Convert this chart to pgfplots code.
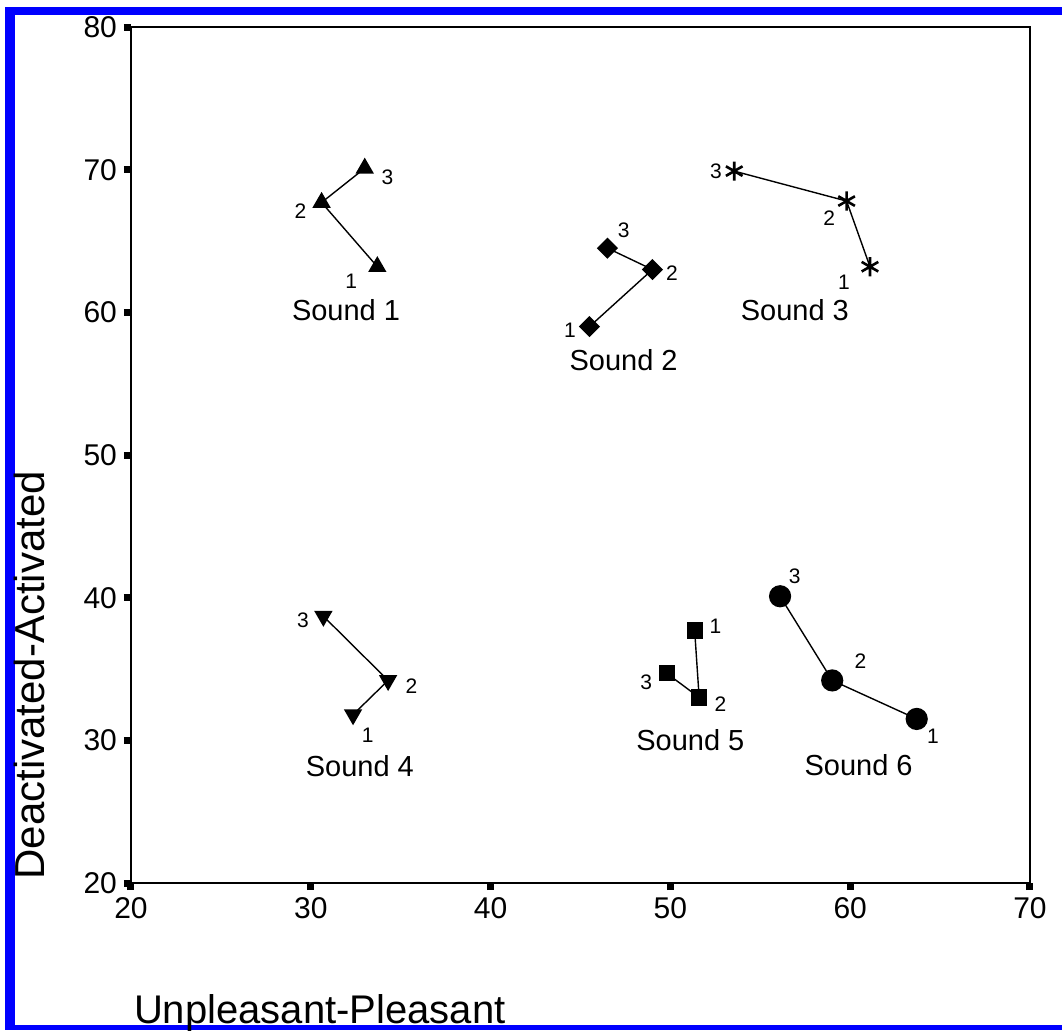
\documentclass[border=0pt]{standalone}
\usepackage{fontspec}
\setmainfont{Liberation Sans}
\usepackage{pgfplots}
\pgfplotsset{compat=1.18}
\tikzset{
    pt/.style={font=\fontsize{10.5}{12}\selectfont},
    snd/.style={font=\fontsize{14.5}{17}\selectfont},
}
\begin{document}
\begin{tikzpicture}
% page: 1062 x 1030 px, 1 px = 0.5pt
\path[use as bounding box] (0,0) rectangle (531pt,-515pt);
\fill[blue] (2.5pt,-3.5pt) rectangle (7.5pt,-515pt);
\fill[blue] (2.5pt,-3.5pt) rectangle (531pt,-7.5pt);
\fill[blue] (2.5pt,-512.5pt) rectangle (531pt,-515pt);
\begin{axis}[
    at={(65.5pt,-441.5pt)}, anchor=south west,
    scale only axis,
    width=449.5pt, height=428pt,
    xmin=20, xmax=70, ymin=20, ymax=80,
    xtick={20,30,...,70}, ytick={20,30,...,80},
    tick align=outside, xtick pos=bottom, ytick pos=left,
    major tick length=3.5pt,
    every tick/.style={black, line width=3.5pt},
    axis line style={line width=1.1pt},
    tick label style={font=\fontsize{15}{18}\selectfont},
    /pgf/number format/assume math mode=true,
    xlabel={Unpleasant-Pleasant},
    ylabel={Deactivated-Activated},
    xlabel style={font=\fontsize{20}{24}\selectfont, inner sep=0pt, at={(axis description cs:0.003,-0.1636)}, anchor=base west},
    ylabel style={font=\fontsize{21}{25}\selectfont, inner sep=0pt, at={(axis description cs:-0.0957,0.0035)}, anchor=base west},
    clip=false,
    every axis plot/.append style={black, line width=0.7pt},
]
% Sound 1
\addplot[mark=triangle*, mark size=4.6pt] coordinates {(33.7,63.2) (30.6,67.7) (33.0,70.1)};
% Sound 2
\addplot[mark=square*, mark size=3.4pt, mark options={rotate=45}] coordinates {(45.5,59.0) (49.0,63.0) (46.5,64.5)};
% Sound 3
\addplot[mark=asterisk, mark size=4.8pt, mark options={line width=1.3pt}] coordinates {(61.1,63.2) (59.8,67.8) (53.55,69.9)};
% Sound 4
\addplot[mark=triangle*, mark size=4.6pt, mark options={rotate=180}] coordinates {(32.35,31.8) (34.3,34.2) (30.7,38.7)};
% Sound 5
\addplot[mark=square*, mark size=3.7pt] coordinates {(51.35,37.7) (51.6,33.0) (49.8,34.7)};
% Sound 6
\addplot[mark=*, mark size=5.2pt] coordinates {(63.7,31.5) (59.0,34.2) (56.1,40.1)};

\node[pt] at (axis cs:34.26,69.5) {3};
\node[pt] at (axis cs:29.43,67.06) {2};
\node[pt] at (axis cs:32.25,62.15) {1};
\node[snd] at (axis cs:31.96,60.17) {Sound 1};

\node[pt] at (axis cs:47.4,65.77) {3};
\node[pt] at (axis cs:50.09,62.78) {2};
\node[pt] at (axis cs:44.42,58.77) {1};
\node[snd] at (axis cs:47.4,56.66) {Sound 2};

\node[pt] at (axis cs:52.54,69.86) {3};
\node[pt] at (axis cs:58.84,66.59) {2};
\node[pt] at (axis cs:59.65,62.08) {1};
\node[snd] at (axis cs:56.92,60.17) {Sound 3};

\node[pt] at (axis cs:29.57,38.44) {3};
\node[pt] at (axis cs:35.6,33.82) {2};
\node[pt] at (axis cs:33.17,30.39) {1};
\node[snd] at (axis cs:32.73,28.17) {Sound 4};

\node[pt] at (axis cs:52.5,37.98) {1};
\node[pt] at (axis cs:52.79,32.56) {2};
\node[pt] at (axis cs:48.65,34.05) {3};
\node[snd] at (axis cs:51.11,30.03) {Sound 5};

\node[pt] at (axis cs:56.92,41.53) {3};
\node[pt] at (axis cs:60.57,35.52) {2};
\node[pt] at (axis cs:64.61,30.31) {1};
\node[snd] at (axis cs:60.47,28.28) {Sound 6};
\end{axis}
\end{tikzpicture}
\end{document}
